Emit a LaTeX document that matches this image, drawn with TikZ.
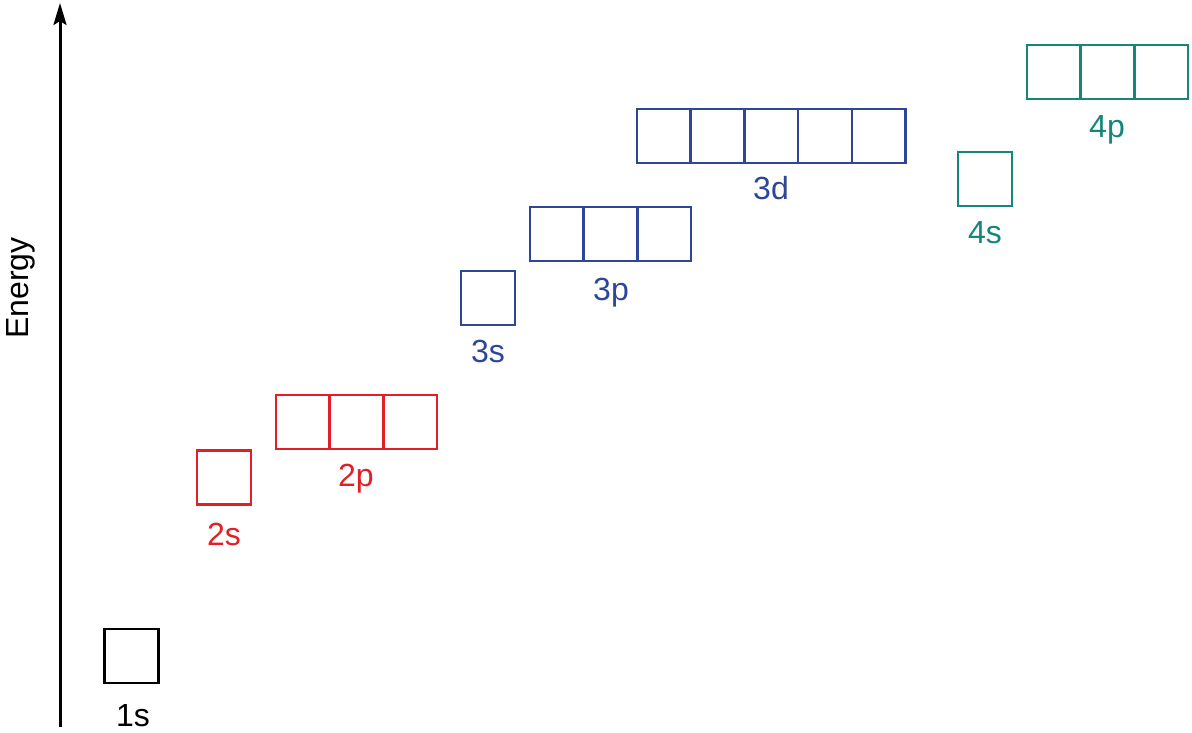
\documentclass[tikz,border=0pt]{standalone}
\usepackage{fontspec}
\setmainfont{Liberation Sans}
\usetikzlibrary{arrows.meta,positioning}
\definecolor{cred}{RGB}{226,30,38}
\definecolor{cblue}{RGB}{46,70,154}
\definecolor{cteal}{RGB}{20,134,124}
\tikzset{
  orb/.style={draw, line width=2.5pt, minimum size=53.7pt, inner sep=0pt, outer sep=0pt},
  lbl/.style={anchor=base, inner sep=0pt, font=\fontsize{32}{38}\selectfont},
  axisline/.style={line width=3pt, -{Stealth[length=22pt,width=13pt,inset=4pt]}}
}
\begin{document}
\begin{tikzpicture}[x=1pt,y=-1pt]
\useasboundingbox (0,0) rectangle (1192,733);
% axis
\coordinate (axbot) at (60,727);
\coordinate (axtop) at (60,3);
\draw[axisline] (axbot) -- (axtop);
\node[lbl, rotate=90, anchor=base west] (energy) at (28,339) {Energy};
% 1s
\node[orb, black] (s1) at (131.5,656) {};
\node[lbl, black] (l1s) at (133,726) {1s};
% 2s, 2p
\node[orb, cred] (s2) at (224,477.5) {};
\node[lbl, cred] (l2s) at (224,545) {2s};
\node[orb, cred] (p2a) at (302.8,422) {};
\node[orb, cred, right=0pt of p2a] (p2b) {};
\node[orb, cred, right=0pt of p2b] (p2c) {};
\node[lbl, cred] (l2p) at (356,486) {2p};
% 3s, 3p, 3d
\node[orb, cblue] (s3) at (488,298) {};
\node[lbl, cblue] (l3s) at (488,362) {3s};
\node[orb, cblue] (p3a) at (556.8,234) {};
\node[orb, cblue, right=0pt of p3a] (p3b) {};
\node[orb, cblue, right=0pt of p3b] (p3c) {};
\node[lbl, cblue] (l3p) at (611,300) {3p};
\node[orb, cblue] (d3a) at (663.8,136) {};
\node[orb, cblue, right=0pt of d3a] (d3b) {};
\node[orb, cblue, right=0pt of d3b] (d3c) {};
\node[orb, cblue, right=0pt of d3c] (d3d) {};
\node[orb, cblue, right=0pt of d3d] (d3e) {};
\node[lbl, cblue] (l3d) at (771,200) {3d};
% 4s, 4p
\node[orb, cteal] (s4) at (985,179) {};
\node[lbl, cteal] (l4s) at (985,243) {4s};
\node[orb, cteal] (p4a) at (1053.8,72) {};
\node[orb, cteal, right=0pt of p4a] (p4b) {};
\node[orb, cteal, right=0pt of p4b] (p4c) {};
\node[lbl, cteal] (l4p) at (1107,138) {4p};
\end{tikzpicture}
\end{document}
